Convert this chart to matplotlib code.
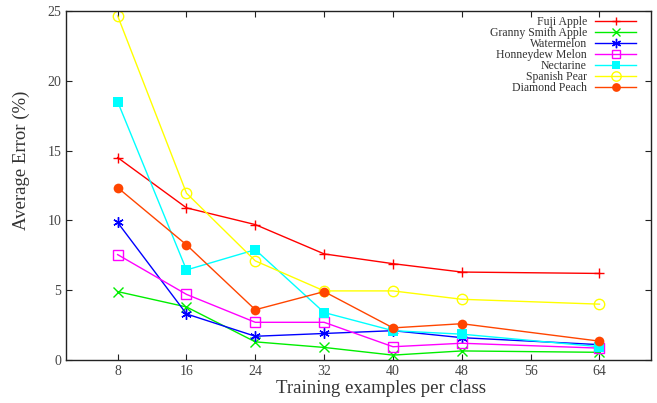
import matplotlib

matplotlib.use("Agg")

import matplotlib.pyplot as plt

plt.rcParams["font.family"] = ["Liberation Serif", "DejaVu Serif"]

examples = [8, 16, 24, 32, 40, 48, 64]

fuji_apple = [14.5, 10.9, 9.7, 7.6, 6.9, 6.3, 6.2]
granny_smith = [4.9, 3.8, 1.3, 0.9, 0.35, 0.65, 0.55]
watermelon = [9.85, 3.3, 1.7, 1.9, 2.1, 1.6, 1.1]
honeydew = [7.55, 4.7, 2.7, 2.7, 0.95, 1.2, 0.85]
nectarine = [18.5, 6.45, 7.9, 3.4, 2.1, 1.85, 0.95]
spanish_pear = [24.65, 11.95, 7.1, 4.95, 4.95, 4.35, 4.0]
diamond_peach = [12.35, 8.25, 3.6, 4.9, 2.3, 2.6, 1.35]

series = [
    ("Fuji Apple", fuji_apple, "#ff0000", dict(marker="+", ms=7, mew=1.0)),
    ("Granny Smith Apple", granny_smith, "#00ee00", dict(marker="x", ms=6.5, mew=1.0)),
    ("Watermelon", watermelon, "#0000ff", dict(marker=(6, 2, 0), ms=7.5, mew=1.0)),
    ("Honneydew Melon", honeydew, "#ff00ff", dict(marker="s", ms=7, mew=1.0, mfc="none")),
    ("Nectarine", nectarine, "#00ffff", dict(marker="s", ms=7, mew=0)),
    ("Spanish Pear", spanish_pear, "#ffff00", dict(marker="o", ms=7.5, mew=1.0, mfc="none")),
    ("Diamond Peach", diamond_peach, "#ff4500", dict(marker="o", ms=7, mew=0)),
]

fig = plt.figure(figsize=(6.57, 4.03), dpi=100)
ax = fig.add_axes([0.1005, 0.1067, 0.8905, 0.866])

for label, values, color, style in series:
    ax.plot(examples, values, color=color, linewidth=1.0, label=label, **style)

ax.set_xlim(2, 70)
ax.set_ylim(0, 25)
ax.set_xticks([8, 16, 24, 32, 40, 48, 56, 64])
ax.set_yticks([0, 5, 10, 15, 20, 25])
ax.tick_params(direction="in", top=True, right=True, length=4, labelsize=10,
               colors="#222222", labelcolor="#444444")
for spine in ax.spines.values():
    spine.set_linewidth(1.0)
    spine.set_color("#222222")

ax.set_xlabel("Training examples per class", fontsize=13.5, color="#333333")
ax.xaxis.set_label_coords(0.538, -0.058)
ax.set_ylabel("Average Error (%)", fontsize=13.5, color="#333333")
ax.yaxis.set_label_coords(-0.061, 0.573)

leg = ax.legend(loc="upper right", bbox_to_anchor=(0.983, 0.999), frameon=False,
                markerfirst=False, fontsize=8.5, handlelength=3.5, labelspacing=-0.08,
                borderaxespad=0, handletextpad=0.7, markerscale=0.9)
for txt in leg.get_texts():
    txt.set_ha("right")
    txt.set_color("#333333")

fig.savefig("out.png", dpi=100)
